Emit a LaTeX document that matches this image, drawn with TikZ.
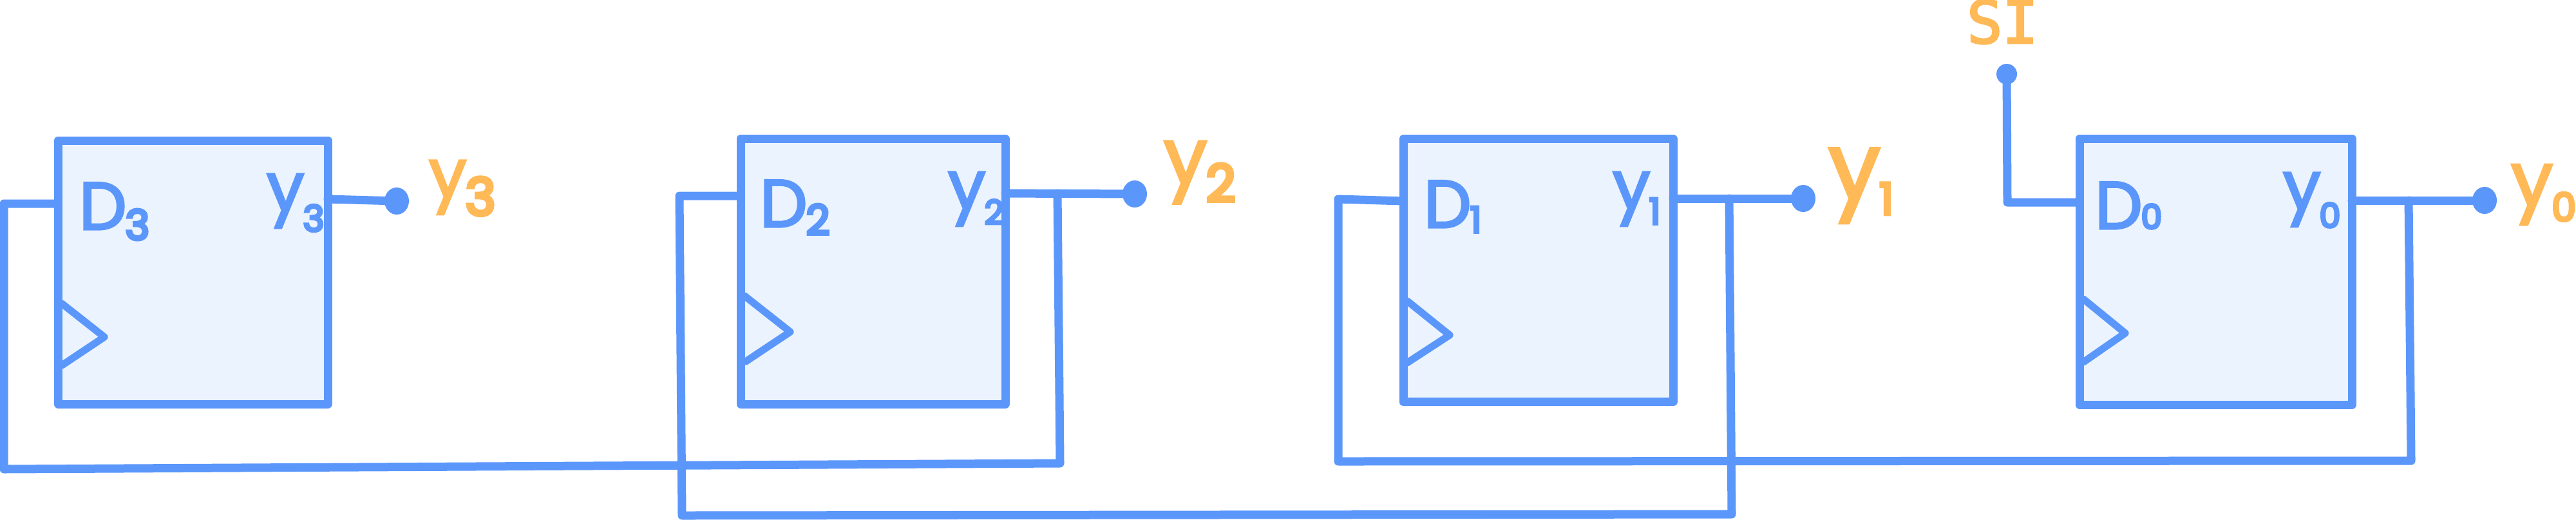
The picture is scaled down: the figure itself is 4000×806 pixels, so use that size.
\documentclass[tikz,border=0pt]{standalone}
\usepackage{fontspec}
\setmainfont{Poppins}[FakeBold=3]
\newfontfamily\slabfont{DejaVu Sans Mono}[FakeBold=3]
\newfontfamily\subdigit{Poppins}[FakeBold=7]
\usetikzlibrary{shapes.geometric}
\definecolor{wireblue}{HTML}{5B97FB}
\definecolor{boxfill}{HTML}{EBF3FE}
\definecolor{labelorange}{HTML}{FFB957}
\newcommand{\hand}[5]{{\fontsize{#2}{#2}\selectfont #1\kern-0.5pt\raisebox{-#5pt}{\subdigit\fontsize{#4}{#4}\selectfont #3}}}
\tikzset{
  ffbox/.style={draw=wireblue,fill=boxfill,line width=3.25pt,line join=round,rectangle,inner sep=0pt,outer sep=0pt},
  wire/.style={draw=wireblue,line width=3.25pt,line join=round,line cap=round},
  clockmark/.style={draw=wireblue,line width=2.8pt,line join=round,line cap=round},
  pindot/.style={ellipse,fill=wireblue,inner sep=0pt,outer sep=0pt,minimum width=9.5pt,minimum height=10.5pt},
  inlabel/.style={text=wireblue,anchor=base west,inner sep=0pt,outer sep=0pt},
  outlabel/.style={text=labelorange,anchor=base west,inner sep=0pt,outer sep=0pt}
}
\begin{document}
\begin{tikzpicture}[x=0.25pt,y=-0.25pt]
\useasboundingbox (0,0) rectangle (4000,806);
% flip-flop boxes
\node[ffbox,minimum width=104.75pt,minimum height=102.25pt] (b3) at (299.5,422.5) {};
\node[ffbox,minimum width=102.75pt,minimum height=102.9pt] (b2) at (1355.5,421.25) {};
\node[ffbox,minimum width=104.75pt,minimum height=102.1pt] (b1) at (2388.5,419.75) {};
\node[ffbox,minimum width=105.75pt,minimum height=103.25pt] (b0) at (3440.5,421.5) {};
% clock triangles
\draw[clockmark] (96,471) -- (162,523) -- (96,567);
\draw[clockmark] (1156,459) -- (1227,515) -- (1158,561);
\draw[clockmark] (2185,467) -- (2251,520) -- (2185,563);
\draw[clockmark] (3235,464) -- (3300,517) -- (3235,562);
% pin dots
\node[pindot] (d3) at (616,312) {};
\node[pindot] (d2) at (1762,301) {};
\node[pindot] (d1) at (2800,308) {};
\node[pindot] (d0) at (3858,311) {};
\node[pindot,minimum width=8pt,minimum height=8pt] (si) at (3116,115) {};
% free bend points and tap points
\coordinate (in3) at (90,316);
\coordinate (c3a) at (6,316);
\coordinate (c3b) at (6,728);
\coordinate (c3c) at (1646,719);
\coordinate (c3d) at (1642,300);
\coordinate (in2) at (1150,304);
\coordinate (c2a) at (1055,304);
\coordinate (c2b) at (1059,800);
\coordinate (c2c) at (2689,798);
\coordinate (c2d) at (2685,308);
\coordinate (in1) at (2179,312);
\coordinate (c1a) at (2078,309);
\coordinate (c1b) at (2078,716);
\coordinate (c1c) at (3744,715);
\coordinate (c1d) at (3740,311);
\coordinate (in0) at (3229,314);
\coordinate (c0a) at (3117,314);
\coordinate (o3) at (509,309);
\coordinate (o2) at (1561,300);
\coordinate (o1) at (2598,308);
\coordinate (o0) at (3652,311);
% outputs
\draw[wire] (o3) -- (d3);
\draw[wire] (o2) -- (d2);
\draw[wire] (o1) -- (d1);
\draw[wire] (o0) -- (d0);
% feedback loops
\draw[wire] (in3) -- (c3a) -- (c3b) -- (c3c) -- (c3d);
\draw[wire] (in2) -- (c2a) -- (c2b) -- (c2c) -- (c2d);
\draw[wire] (in1) -- (c1a) -- (c1b) -- (c1c) -- (c1d);
\draw[wire] (si) -- (c0a) -- (in0);
% labels inside the boxes
\node[inlabel] (tD3) at (123,356) {\hand{D}{26}{3}{16}{4}};
\node[inlabel] (ty3) at (414,327) {\hand{y}{26}{3}{14}{8}};
\node[inlabel] (tD2) at (1180,352) {\hand{D}{26}{2}{16}{3}};
\node[inlabel] (ty2) at (1472,324) {\hand{y}{26}{2}{13}{6}};
\node[inlabel] (tD1) at (2211,353) {\hand{D}{26}{1}{14}{2}};
\node[inlabel] (ty1) at (2504,324) {\hand{y}{26}{1}{14}{6}};
\node[inlabel] (tD0) at (3253,355) {\hand{D}{26}{0}{13}{0}};
\node[inlabel] (ty0) at (3545,325) {\hand{y}{26}{0}{13}{7}};
% labels outside
\node[outlabel] (l3) at (666,306) {\hand{y}{26}{3}{20}{7}};
\node[outlabel] (l2) at (1807,285) {\hand{y}{30}{2}{20}{7}};
\node[outlabel] (l1) at (2839,309) {\hand{y}{36}{1}{17}{6}};
\node[outlabel] (l0) at (3899,319) {\hand{y}{29}{0}{15}{6}};
\node[outlabel] (lsi) at (3054,67) {\slabfont\fontsize{23}{23}\selectfont SI};
\end{tikzpicture}
\end{document}
